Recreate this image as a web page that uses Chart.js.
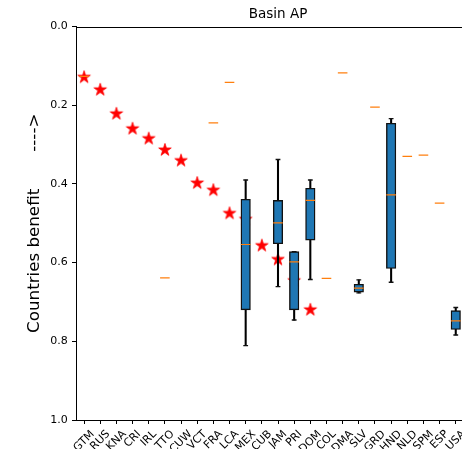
<!DOCTYPE html>
<html><head><meta charset="utf-8">
<script src="https://cdn.jsdelivr.net/npm/chart.js@4.4.0/dist/chart.umd.min.js"></script>
<style>html,body{margin:0;padding:0;overflow:hidden;background:#fff}#wrap{width:490px;height:449px}</style>
</head><body><div id="wrap"><canvas id="c"></canvas></div>
<script>
const categories = ['GTM','RUS','KNA','CRI','IRL','TTO','CUW','VCT','FRA','LCA','MEX','CUB','JAM','PRI','DOM','COL','DMA','SLV','GRD','HND','NLD','SPM','ESP','USA',''];
const whiskerLow  = [null,null,null,null,null,null,null,null,null,null,0.390,null,0.338,0.572,0.390,null,null,0.644,null,0.234,null,null,null,0.714,null];
const q1          = [null,null,null,null,null,null,null,null,null,null,0.439,null,0.442,0.572,0.411,null,null,0.655,null,0.246,null,null,null,0.722,null];
const median      = [0.127,null,null,null,null,0.639,null,null,0.245,0.142,0.554,null,0.499,0.598,0.442,0.640,0.118,0.665,0.205,0.428,0.330,0.327,0.449,0.748,null];
const q3          = [null,null,null,null,null,null,null,null,null,null,0.720,null,0.552,0.720,0.543,null,null,0.675,null,0.615,null,null,null,0.770,null];
const whiskerHigh = [null,null,null,null,null,null,null,null,null,null,0.811,null,0.661,0.746,0.643,null,null,0.677,null,0.650,null,null,null,0.784,null];
const stars       = [0.129,0.161,0.222,0.260,0.285,0.314,0.341,0.398,0.416,0.475,0.490,0.557,0.592,0.646,0.720,null,null,null,null,null,null,null,null,null,null];
const yTicks = [0.0,0.2,0.4,0.6,0.8,1.0];
const chartTitle = 'Basin AP';
const yTitle = 'Countries benefit       ---->';

const FONT = '"DejaVu Sans", sans-serif';

// red 5-point star marker
function makeStar(R){
  const s = Math.ceil(R*2+4), c = document.createElement('canvas');
  c.width = s; c.height = s;
  const g = c.getContext('2d'), cx = s/2, cy = s/2, r = R*0.381966;
  g.beginPath();
  for(let k=0;k<10;k++){
    const rad = k%2===0 ? R : r;
    const a = -Math.PI/2 + k*Math.PI/5;
    const px = cx + rad*Math.cos(a), py = cy + rad*Math.sin(a);
    k===0 ? g.moveTo(px,py) : g.lineTo(px,py);
  }
  g.closePath();
  g.fillStyle = '#ff0000'; g.fill();
  g.lineWidth = 0.8; g.strokeStyle = '#ff0000'; g.stroke();
  return c;
}
const starImg = makeStar(6.6);

const pair = (a,b) => categories.map((_,i) => a[i]!=null ? [a[i], b[i]] : null);

const xLabelPlugin = {
  id:'xlabels',
  afterDraw(chart){
    const ctx = chart.ctx, xs = chart.scales.x, area = chart.chartArea;
    ctx.save();
    ctx.font = '11px ' + FONT;
    ctx.fillStyle = '#000';
    ctx.textAlign = 'center'; ctx.textBaseline = 'middle';
    const h = 11*1.16;
    categories.forEach((lab,i)=>{
      if(!lab) return;
      const x = xs.getPixelForValue(i);
      const w = ctx.measureText(lab).width;
      const cy = area.bottom + 4 + 3.9 + (w+h)*0.7071/2;
      ctx.save(); ctx.translate(x, cy); ctx.rotate(-Math.PI/4);
      ctx.fillText(lab, 0, 0); ctx.restore();
    });
    // frame (top spine)
    ctx.strokeStyle = '#000'; ctx.lineWidth = 1;
    ctx.beginPath();
    ctx.moveTo(area.left, Math.round(area.top)+0.5);
    ctx.lineTo(area.right, Math.round(area.top)+0.5);
    ctx.stroke();
    ctx.restore();
  }
};

new Chart(document.getElementById('c'), {
  type:'bar',
  data:{
    labels: categories,
    datasets:[
      {type:'line', label:'stars', data: stars, showLine:false, pointStyle: starImg, pointRadius:7, order:5},
      {type:'bar', label:'whiskers', data: pair(whiskerLow, whiskerHigh), backgroundColor:'#000', borderWidth:0, barThickness:1.4, grouped:false, order:4},
      {type:'bar', label:'boxes', data: pair(q1, q3), backgroundColor:'#1f77b4', borderColor:'#111', borderWidth:1.4, borderSkipped:false, barThickness:9.5, grouped:false, order:3},
      {type:'line', label:'median', data: median, showLine:false, pointStyle:'line', pointRadius:4.8, borderColor:'#ff7f0e', borderWidth:1.2, order:2},
      {type:'line', label:'capLow', data: whiskerLow, showLine:false, pointStyle:'line', pointRadius:2.4, borderColor:'#111', borderWidth:1.4, order:1},
      {type:'line', label:'capHigh', data: whiskerHigh, showLine:false, pointStyle:'line', pointRadius:2.4, borderColor:'#111', borderWidth:1.4, order:1}
    ]
  },
  options:{
    responsive:true, maintainAspectRatio:false, animation:false, devicePixelRatio:1,
    layout:{padding:{left:0,right:10,top:0,bottom:0}},
    plugins:{
      legend:{display:false}, tooltip:{enabled:false},
      title:{display:true, text: chartTitle, fullSize:false, color:'#000',
        font:{family:FONT, size:13.5, weight:'normal'}, padding:{top:6,bottom:4.3}}
    },
    scales:{
      x:{type:'category', offset:true,
        ticks:{display:false, autoSkip:false},
        grid:{drawOnChartArea:false, offset:false, tickLength:4, color:'#000', tickWidth:1},
        border:{display:true, color:'#000', width:1},
        afterFit(s){ s.height = 29; }
      },
      y:{type:'linear', reverse:true, min:0, max:1,
        afterBuildTicks(s){ s.ticks = yTicks.map(v=>({value:v})); },
        ticks:{font:{family:FONT, size:11}, color:'#000', padding:4.3, callback:v=>Number(v).toFixed(1)},
        grid:{drawOnChartArea:false, tickLength:4, color:'#000', tickWidth:1},
        border:{display:true, color:'#000', width:1},
        title:{display:true, text:yTitle, color:'#000', font:{family:FONT, size:16.7, weight:'normal'}, padding:{top:25,bottom:0}},
        afterFit(s){ s.width = 76; }
      }
    }
  },
  plugins:[xLabelPlugin]
});
</script>
</body></html>
